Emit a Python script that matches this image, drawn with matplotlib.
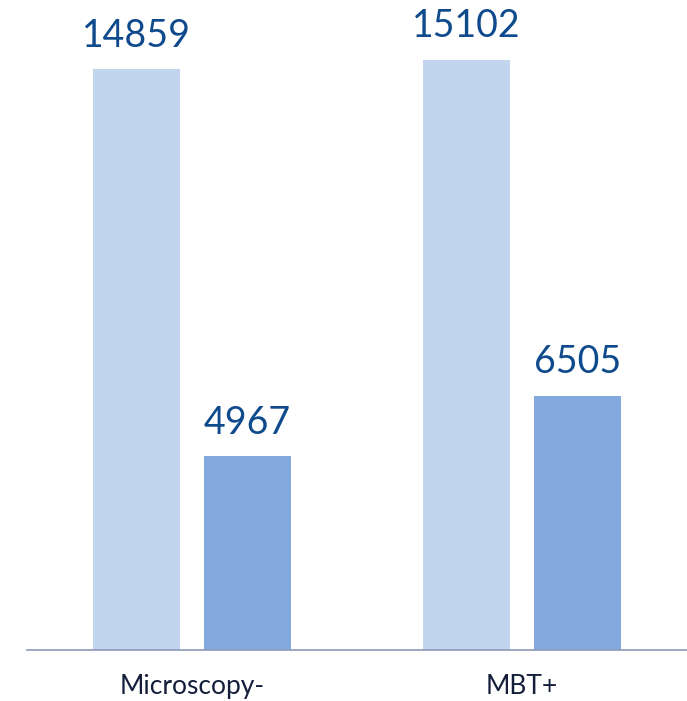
import numpy as np
import matplotlib.pyplot as plt

plt.rcParams['font.family'] = ['Lato', 'DejaVu Sans']

categories = ['Microscopy-', 'MBT+']
series_a = [14859, 15102]
series_b = [4967, 6505]

light = '#C2D5EF'
dark = '#84A9DF'
text_blue = '#0E4A8C'

fig = plt.figure(figsize=(6.87, 7.01), dpi=100)
ax = fig.add_axes([27 / 687, 51 / 701, 660 / 687, 650 / 701])

x = np.arange(len(categories))
w = 0.266
off = 0.168
b1 = ax.bar(x - off, series_a, w, color=light)
b2 = ax.bar(x + off, series_b, w, color=dark)

for bars in (b1, b2):
    for r in bars:
        ax.annotate(f'{int(r.get_height())}', (r.get_x() + r.get_width() / 2, r.get_height()),
                    xytext=(0, 11), textcoords='offset points', ha='center', va='bottom',
                    fontsize=27, color=text_blue)

ax.set_xlim(-0.5, 1.5)
ax.set_ylim(0, 16624)
ax.set_xticks(x)
ax.set_xticklabels(categories, fontsize=19, color='#141E3A')
ax.tick_params(axis='x', length=0, pad=17)
ax.set_yticks([])
for s in ['top', 'right', 'left']:
    ax.spines[s].set_visible(False)
ax.spines['bottom'].set_color('#8C98B8')
ax.spines['bottom'].set_linewidth(1.2)

fig.savefig('out.png', dpi=100)
